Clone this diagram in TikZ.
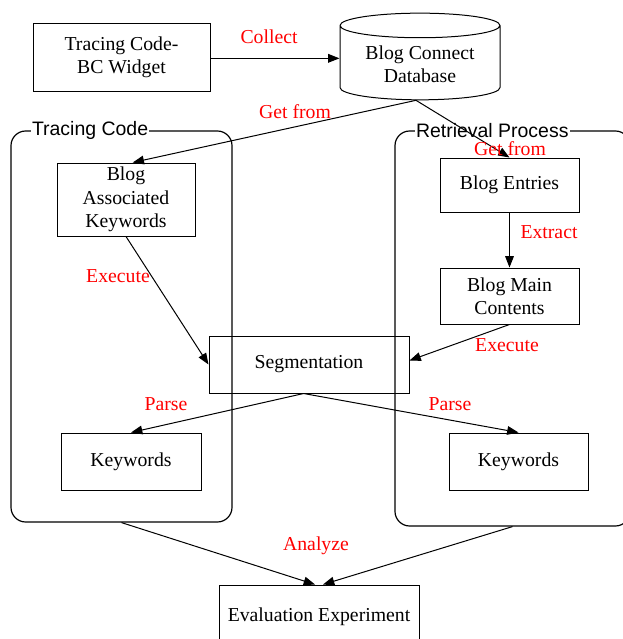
\documentclass[tikz,border=0pt]{standalone}
\usepackage{fontspec}
\setmainfont{Liberation Serif}
\newfontfamily\grpfont{Liberation Sans}
\usetikzlibrary{shapes,shapes.geometric,positioning,arrows.meta}

\tikzset{
  box/.style={draw, line width=.75pt, align=center, inner sep=1pt, font=\fontsize{14.8}{17.5}\selectfont},
  lbl/.style={text=red, inner sep=1pt, font=\fontsize{14.8}{17.5}\selectfont},
  grp/.style={draw, line width=.9pt, rounded corners=11pt},
  grplbl/.style={fill=white, inner sep=1pt, anchor=west, font=\grpfont\fontsize{14.6}{17}\selectfont},
  arr/.style={line width=.75pt, -{Triangle[length=8.5pt,width=6.5pt]}}
}

\begin{document}
\begin{tikzpicture}[x=.75pt,y=-.75pt]
\useasboundingbox (0,0) rectangle (622,639);
% Groups
\node[grp, minimum width=165.75pt, minimum height=293.25pt] (tcgrp) at (121.5,326.5) {};
\node[grp, minimum width=176.25pt, minimum height=296.25pt] (rpgrp) at (512.5,328.5) {};
\node[grplbl] (tclbl) at ([xshift=15pt]tcgrp.north west) {Tracing Code};
\node[grplbl] (rplbl) at ([xshift=15pt]rpgrp.north west) {Retrieval Process};
% Boxes
\node[box, minimum width=132.75pt, minimum height=51pt] (widget) at (121.5,57) {Tracing Code-\\BC Widget};
\node[box, cylinder, shape border rotate=90, aspect=.22, minimum width=120pt, minimum height=65pt] (db) at (420,64) {Blog Connect\\Database};
\node[box, minimum width=103.5pt, minimum height=54.75pt] (assoc) at (126,199.5) {Blog\\Associated\\Keywords};
\node[box, minimum width=104.25pt, minimum height=40.5pt] (entries) at (509.5,185) {Blog Entries};
\node[box, minimum width=104.25pt, minimum height=42pt] (maincont) at (509.5,296) {Blog Main\\Contents};
\node[box, minimum width=150pt, minimum height=42.75pt] (seg) at (309,364.5) {Segmentation};
\node[box, minimum width=105pt, minimum height=42.75pt] (kwleft) at (131,461.5) {Keywords};
\node[box, minimum width=104.25pt, minimum height=42.75pt] (kwright) at (518.5,461.5) {Keywords};
\node[box, minimum width=150pt, minimum height=48pt, fill=white] (eval) at (319,617) {Evaluation Experiment};
% Connectors
\draw[arr] ([yshift=-1pt]widget.east) -- ([yshift=-1pt]widget.east -| db.west);
\draw[arr] ([xshift=-3pt]db.south) -- ([xshift=5pt]assoc.north);
\draw[arr] ([xshift=-3pt]db.south) -- (entries.north);
\draw[arr] (entries) -- (maincont);
\draw[arr] (assoc.south) -- (seg.west);
\draw[arr] (maincont.south) -- ([yshift=3pt]seg.east);
\draw[arr] ([xshift=-4pt]seg.south) -- (kwleft.north);
\draw[arr] ([xshift=-4pt]seg.south) -- (kwright.north);
\draw[arr] (tcgrp.south) -- ([xshift=-3pt]eval.north);
\draw[arr] (rpgrp.south) -- ([xshift=3pt]eval.north);
% Labels
\node[lbl] (lcollect) at (269,37) {Collect};
\node[lbl] (lgetl) at (295,112) {Get from};
\node[lbl] (lgetr) at (510,149) {Get from};
\node[lbl] (lextract) at (549,232) {Extract};
\node[lbl] (lexecl) at (118,276) {Execute};
\node[lbl] (lexecr) at (507,345) {Execute};
\node[lbl] (lparsel) at (166,404) {Parse};
\node[lbl] (lparser) at (450,404) {Parse};
\node[lbl] (lanalyze) at (316,546) {Analyze};
\end{tikzpicture}
\end{document}
